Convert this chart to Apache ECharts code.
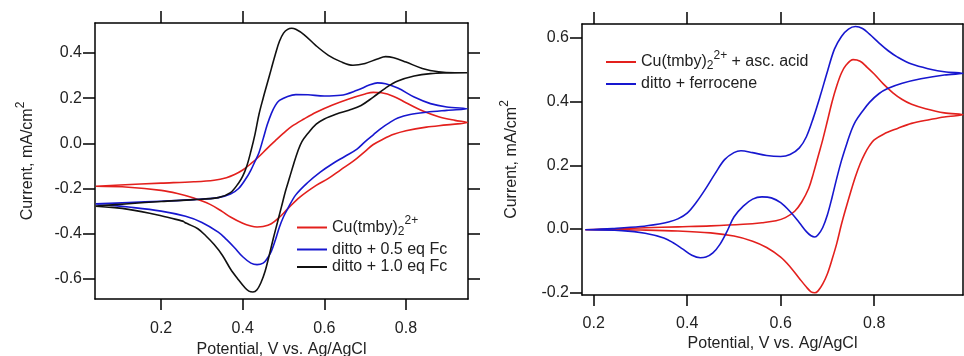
<!DOCTYPE html>
<html>
<head>
<meta charset="utf-8">
<script src="https://cdn.jsdelivr.net/npm/echarts@6/dist/echarts.min.js"></script>
<style>
html, body { margin: 0; padding: 0; background: #fff; }
#chart { width: 964px; height: 356px; }
</style>
</head>
<body>
<div id="chart"></div>
<script>
// left panel, [potential V, current mA/cm2], forward scan then reverse scan
var cuFwd = [[0.04,-0.190],[0.10,-0.184],[0.20,-0.176],[0.28,-0.170],[0.33,-0.163],[0.36,-0.152],[0.38,-0.138],[0.40,-0.118],[0.42,-0.090],[0.44,-0.058],[0.46,-0.022],[0.48,0.012],[0.50,0.045],[0.52,0.075],[0.55,0.108],[0.58,0.138],[0.62,0.170],[0.66,0.197],[0.70,0.219],[0.72,0.226],[0.74,0.224],[0.77,0.208],[0.80,0.180],[0.84,0.144],[0.88,0.118],[0.92,0.102],[0.95,0.093]];
var cuRev = [[0.95,0.093],[0.90,0.082],[0.85,0.072],[0.80,0.056],[0.77,0.040],[0.74,0.015],[0.72,-0.005],[0.70,-0.035],[0.67,-0.080],[0.64,-0.117],[0.61,-0.155],[0.58,-0.186],[0.54,-0.238],[0.51,-0.290],[0.49,-0.327],[0.47,-0.356],[0.45,-0.368],[0.435,-0.370],[0.42,-0.366],[0.40,-0.354],[0.37,-0.326],[0.35,-0.302],[0.32,-0.270],[0.28,-0.242],[0.24,-0.222],[0.20,-0.208],[0.12,-0.194],[0.04,-0.190]];

var fc05Fwd = [[0.04,-0.268],[0.12,-0.262],[0.20,-0.256],[0.28,-0.249],[0.34,-0.240],[0.37,-0.224],[0.39,-0.200],[0.41,-0.150],[0.42,-0.118],[0.43,-0.080],[0.44,-0.040],[0.45,0.020],[0.46,0.082],[0.47,0.132],[0.48,0.168],[0.49,0.190],[0.51,0.208],[0.53,0.216],[0.56,0.215],[0.60,0.210],[0.64,0.213],[0.68,0.235],[0.71,0.258],[0.73,0.268],[0.75,0.264],[0.78,0.245],[0.82,0.205],[0.86,0.176],[0.90,0.161],[0.95,0.153]];
var fc05Rev = [[0.95,0.153],[0.90,0.146],[0.85,0.138],[0.81,0.128],[0.78,0.112],[0.76,0.092],[0.74,0.068],[0.72,0.038],[0.70,0.008],[0.68,-0.025],[0.65,-0.058],[0.62,-0.090],[0.59,-0.127],[0.56,-0.172],[0.53,-0.228],[0.51,-0.290],[0.50,-0.325],[0.49,-0.370],[0.48,-0.428],[0.47,-0.478],[0.46,-0.510],[0.45,-0.530],[0.435,-0.537],[0.42,-0.530],[0.40,-0.502],[0.38,-0.462],[0.36,-0.425],[0.34,-0.393],[0.30,-0.350],[0.26,-0.323],[0.20,-0.300],[0.12,-0.282],[0.04,-0.268]];

var fc10Fwd = [[0.04,-0.278],[0.12,-0.267],[0.20,-0.257],[0.28,-0.249],[0.34,-0.240],[0.37,-0.218],[0.39,-0.175],[0.40,-0.145],[0.41,-0.100],[0.42,-0.035],[0.43,0.040],[0.44,0.130],[0.45,0.200],[0.46,0.265],[0.47,0.330],[0.48,0.395],[0.49,0.452],[0.50,0.488],[0.51,0.505],[0.52,0.510],[0.53,0.505],[0.55,0.482],[0.58,0.432],[0.61,0.390],[0.64,0.362],[0.67,0.346],[0.70,0.354],[0.73,0.374],[0.75,0.384],[0.77,0.379],[0.80,0.360],[0.84,0.332],[0.88,0.317],[0.92,0.313],[0.95,0.313]];
var fc10Rev = [[0.95,0.313],[0.90,0.312],[0.86,0.309],[0.82,0.298],[0.78,0.276],[0.75,0.245],[0.72,0.205],[0.69,0.168],[0.66,0.147],[0.63,0.130],[0.60,0.108],[0.58,0.085],[0.56,0.045],[0.545,0.008],[0.535,-0.035],[0.525,-0.090],[0.515,-0.150],[0.505,-0.210],[0.495,-0.280],[0.485,-0.350],[0.475,-0.420],[0.465,-0.495],[0.455,-0.565],[0.445,-0.615],[0.435,-0.648],[0.425,-0.658],[0.415,-0.654],[0.405,-0.638],[0.39,-0.605],[0.37,-0.556],[0.35,-0.495],[0.33,-0.448],[0.31,-0.410],[0.29,-0.378],[0.265,-0.356],[0.258,-0.350],[0.255,-0.346],[0.25,-0.343],[0.20,-0.320],[0.12,-0.292],[0.04,-0.278]];

// right panel
var ascFwd = [[0.182,-0.002],[0.24,0.000],[0.31,0.004],[0.38,0.007],[0.45,0.010],[0.52,0.015],[0.56,0.020],[0.59,0.026],[0.61,0.036],[0.63,0.056],[0.645,0.085],[0.66,0.128],[0.67,0.175],[0.68,0.228],[0.69,0.281],[0.70,0.340],[0.71,0.400],[0.72,0.450],[0.73,0.490],[0.74,0.515],[0.755,0.532],[0.77,0.527],[0.785,0.508],[0.80,0.487],[0.82,0.455],[0.84,0.428],[0.86,0.407],[0.88,0.392],[0.91,0.378],[0.95,0.365],[0.99,0.359]];
var ascRev = [[0.99,0.359],[0.95,0.352],[0.92,0.344],[0.88,0.332],[0.85,0.316],[0.82,0.298],[0.80,0.280],[0.79,0.262],[0.78,0.237],[0.77,0.205],[0.76,0.165],[0.75,0.118],[0.74,0.068],[0.73,0.015],[0.72,-0.045],[0.71,-0.095],[0.70,-0.140],[0.69,-0.172],[0.68,-0.194],[0.673,-0.200],[0.665,-0.197],[0.655,-0.182],[0.64,-0.155],[0.62,-0.118],[0.60,-0.088],[0.57,-0.058],[0.54,-0.038],[0.50,-0.022],[0.45,-0.012],[0.38,-0.006],[0.30,-0.003],[0.24,-0.002],[0.182,-0.002]];

var ferFwd = [[0.182,-0.002],[0.24,0.002],[0.30,0.008],[0.34,0.016],[0.36,0.022],[0.38,0.032],[0.40,0.050],[0.42,0.085],[0.44,0.128],[0.46,0.175],[0.48,0.218],[0.50,0.240],[0.515,0.246],[0.54,0.240],[0.57,0.231],[0.60,0.228],[0.62,0.234],[0.64,0.255],[0.655,0.290],[0.67,0.350],[0.685,0.420],[0.70,0.495],[0.715,0.565],[0.73,0.605],[0.745,0.628],[0.76,0.636],[0.775,0.630],[0.79,0.612],[0.81,0.585],[0.83,0.560],[0.85,0.540],[0.88,0.518],[0.92,0.502],[0.95,0.494],[0.99,0.489]];
var ferRev = [[0.99,0.489],[0.95,0.484],[0.90,0.472],[0.86,0.458],[0.83,0.442],[0.81,0.425],[0.79,0.398],[0.775,0.370],[0.76,0.338],[0.75,0.305],[0.74,0.262],[0.73,0.215],[0.72,0.160],[0.71,0.100],[0.70,0.045],[0.69,0.005],[0.68,-0.018],[0.673,-0.025],[0.665,-0.021],[0.655,-0.008],[0.64,0.020],[0.62,0.055],[0.60,0.083],[0.58,0.098],[0.56,0.101],[0.54,0.094],[0.52,0.072],[0.50,0.038],[0.485,-0.008],[0.47,-0.048],[0.455,-0.075],[0.44,-0.088],[0.428,-0.090],[0.41,-0.082],[0.39,-0.062],[0.37,-0.043],[0.35,-0.028],[0.31,-0.013],[0.26,-0.005],[0.182,-0.002]];

var ticksX = [0.2, 0.4, 0.6, 0.8];
var ticksLeftY = [-0.6, -0.4, -0.2, 0.0, 0.2, 0.4];
var ticksRightY = [-0.2, 0.0, 0.2, 0.4, 0.6];

var seriesNames = ['Cu(tmby)2', 'ditto + 0.5 eq Fc', 'ditto + 1.0 eq Fc', 'Cu(tmby)2 + asc. acid', 'ditto + ferrocene'];
var legendText = {
  'Cu(tmby)2': '{n|Cu(tmby)}{sub|2}{sup|2+}',
  'Cu(tmby)2 + asc. acid': '{n|Cu(tmby)}{sub|2}{sup|2+}{n| + asc. acid}'
};

var FONT = 'Liberation Sans, Arial, sans-serif';
var RED = '#e3201d', BLUE = '#1717cf', BLACK = '#111111';

function loop(fwd, rev) {
  return fwd.concat(rev.slice(1));
}

var richText = {
  n: { fontSize: 16, fontFamily: FONT, color: '#222', lineHeight: 17 },
  sub: { fontSize: 12, fontFamily: FONT, color: '#222', padding: [8, 0, 0, 0] },
  sup: { fontSize: 12, fontFamily: FONT, color: '#222', padding: [0, 0, 13, 0], lineHeight: 26 }
};

function xAxes(grid, min, max, labelMargin, nameGap) {
  var line = { show: true, onZero: false, lineStyle: { color: '#000', width: 1.5 } };
  return [{
    type: 'value', gridIndex: grid, position: 'bottom', min: min, max: max,
    axisLine: line,
    axisTick: { show: true, length: 11, customValues: ticksX, lineStyle: { color: '#000', width: 1.5 } },
    axisLabel: { customValues: ticksX, margin: labelMargin, fontSize: 16, fontFamily: FONT, color: '#222',
      formatter: function (v) { return v.toFixed(1); } },
    splitLine: { show: false },
    name: 'Potential, V vs. Ag/AgCl', nameLocation: 'middle', nameGap: nameGap, nameMoveOverlap: false,
    nameTextStyle: { fontSize: 16, fontFamily: FONT, color: '#222' }
  }, {
    type: 'value', gridIndex: grid, position: 'top', min: min, max: max,
    axisLine: line,
    axisTick: { show: true, length: 12, customValues: ticksX, lineStyle: { color: '#000', width: 1.5 } },
    axisLabel: { show: false },
    splitLine: { show: false }
  }];
}

function yAxes(grid, min, max, ticks, nameGap, rightTicks) {
  var line = { show: true, onZero: false, lineStyle: { color: '#000', width: 1.5 } };
  return [{
    type: 'value', gridIndex: grid, position: 'left', min: min, max: max,
    axisLine: line,
    axisTick: { show: true, length: 12, customValues: ticks, lineStyle: { color: '#000', width: 1.5 } },
    axisLabel: { customValues: ticks, margin: 13, fontSize: 16, fontFamily: FONT, color: '#222',
      formatter: function (v) { return v.toFixed(1); } },
    splitLine: { show: false },
    name: '{n|Current, mA/cm}{sup|2}', nameLocation: 'middle', nameGap: nameGap, nameMoveOverlap: false,
    nameTextStyle: { fontSize: 16, fontFamily: FONT, color: '#222',
      rich: { n: richText.n, sup: { fontSize: 12, fontFamily: FONT, color: '#222', padding: [0, 0, 13, 0] } } }
  }, {
    type: 'value', gridIndex: grid, position: 'right', min: min, max: max,
    axisLine: line,
    axisTick: { show: rightTicks, length: 12, customValues: ticks, lineStyle: { color: '#000', width: 1.5 } },
    axisLabel: { show: false },
    splitLine: { show: false }
  }];
}

function cv(name, data, color, xi, yi) {
  return {
    name: name, type: 'line', data: data, xAxisIndex: xi, yAxisIndex: yi,
    showSymbol: false, smooth: 0.35, animation: false,
    lineStyle: { color: color, width: 1.6 }, itemStyle: { color: color }
  };
}

var legendBase = {
  orient: 'vertical', icon: 'rect', itemWidth: 30, itemHeight: 2, itemGap: 1.5, padding: 0,
  selectedMode: false,
  textStyle: { fontSize: 16, fontFamily: FONT, color: '#222', rich: richText },
  formatter: function (name) { return legendText[name] || '{n|' + name + '}'; }
};

var chart = echarts.init(document.getElementById('chart'), null, { renderer: 'canvas' });
chart.setOption({
  backgroundColor: '#fff',
  animation: false,
  grid: [
    { left: 95, top: 23, width: 373, height: 276, outerBoundsMode: 'none' },
    { left: 582, top: 24, width: 381, height: 271, outerBoundsMode: 'none' }
  ],
  xAxis: xAxes(0, 0.038, 0.952, 21.5, 42.5).concat(xAxes(1, 0.175, 0.99, 20.5, 41)),
  yAxis: yAxes(0, -0.689, 0.533, ticksLeftY, 55, true).concat(yAxes(1, -0.207, 0.644, ticksRightY, 58, false)),
  legend: [
    Object.assign({}, legendBase, { left: 297, top: 215, data: seriesNames.slice(0, 3) }),
    Object.assign({}, legendBase, { left: 606, top: 49.5, data: seriesNames.slice(3) })
  ],
  series: [
    cv(seriesNames[0], loop(cuFwd, cuRev), RED, 0, 0),
    cv(seriesNames[1], loop(fc05Fwd, fc05Rev), BLUE, 0, 0),
    cv(seriesNames[2], loop(fc10Fwd, fc10Rev), BLACK, 0, 0),
    cv(seriesNames[3], loop(ascFwd, ascRev), RED, 2, 2),
    cv(seriesNames[4], loop(ferFwd, ferRev), BLUE, 2, 2)
  ]
});
</script>
</body>
</html>
